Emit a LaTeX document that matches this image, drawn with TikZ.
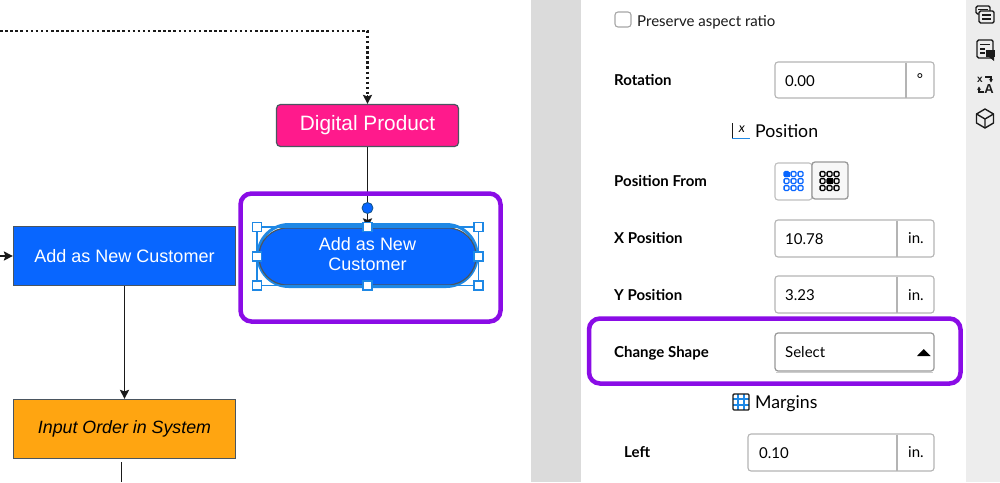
\documentclass[tikz,border=0pt]{standalone}
\usepackage{fontspec}
\setmainfont{Liberation Sans}
\newfontfamily\lato{Lato}
\usetikzlibrary{arrows.meta,calc,shapes.misc}
\definecolor{purp}{HTML}{8A0CE6}
\definecolor{blu}{HTML}{0866FF}
\definecolor{hand}{HTML}{1E88E5}
\definecolor{pink}{HTML}{FF1A8C}
\definecolor{orng}{HTML}{FFA511}
\definecolor{bord}{HTML}{4A5560}
\definecolor{field}{HTML}{B4B4B4}
\definecolor{ink}{HTML}{1A1A1A}
\tikzset{
  flow/.style={draw=bord,line width=1.2pt,minimum height=0,inner sep=0pt,align=center},
  conn/.style={draw=ink,line width=1.9pt,-{Stealth[length=9pt,width=9pt,inset=1.5pt]}},
  handle/.style={draw=hand,fill=white,line width=1.2pt,minimum size=9pt,inner sep=0pt},
  callout/.style={draw=purp,line width=4.5pt,rounded corners=11pt},
  lab/.style={font=\lato\bfseries\fontsize{15}{16}\selectfont,text=black,anchor=west,inner sep=0pt,text height=13pt,text depth=2.2pt},
  val/.style={font=\lato\fontsize{15}{16}\selectfont,text=black,anchor=west,inner sep=0pt,text height=13pt,text depth=2.2pt},
  head/.style={font=\lato\fontsize{17.7}{20}\selectfont,text=black,anchor=west,inner sep=0pt,text height=15pt,text depth=2.6pt},
  fld/.style={draw=field,line width=1.1pt,rounded corners=3pt,fill=white},
  ico/.style={draw=ink,line width=1.4pt},
}
\begin{document}
\begin{tikzpicture}[x=1pt,y=-1pt]
\useasboundingbox (0,0) rectangle (1000,482);
\fill[white] (0,0) rectangle (1000,482);
\fill[black!14] (531,0) rectangle (581,482);
\fill[black!7] (966,0) rectangle (1000,482);

% flow shapes
\node[flow,fill=pink,rounded corners=4pt,minimum width=182pt,minimum height=42pt,text=white,font=\fontsize{20.8}{24}\selectfont] (dp) at (367.5,125.5) {Digital Product};
\node[flow,fill=blu,minimum width=222pt,minimum height=59pt,text=white,font=\fontsize{18}{22}\selectfont] (add) at (124.5,256) {Add as New Customer};
\node[flow,fill=orng,minimum width=222pt,minimum height=59pt,text=black,font=\itshape\fontsize{17.8}{22}\selectfont] (inp) at (124.5,429) {Input Order in System};
\node[draw=hand,line width=3pt,rounded rectangle,minimum width=226pt,minimum height=62pt] (sel) at (367.5,255.5) {};
\node[draw=bord,fill=blu,line width=1.2pt,rounded rectangle,minimum width=224pt,minimum height=57pt] (cust) at (367.5,256.5) {};
\node[text=white,align=center,inner sep=0pt,font=\fontsize{18}{20}\selectfont] (custtext) at (367.5,254.5) {Add as New\\Customer};

% free ends
\coordinate (topleft) at (0,31);
\coordinate (corner) at (367.5,31);
\coordinate (inleft) at (0,256);
\coordinate (inpend) at (121.5,482);
\coordinate (inptop) at (121.5,462);

% connectors
\draw[draw=ink,line width=2.5pt,dash pattern=on 2.5pt off 2.6pt] (topleft) -- (corner) -- ($(dp.north)+(0,-9)$);
\draw[-{Stealth[length=9pt,width=9pt,inset=1.5pt]},draw=ink,line width=1.9pt] ($(dp.north)+(0,-9)$) -- (dp.north);
\draw[conn] (dp.south) -- (cust.north);
\draw[conn] (inleft) -- (add.west);
\draw[conn] (add.south) -- (inp.north -| add.south);
\draw[draw=ink,line width=1.9pt] (inptop) -- (inpend);

% selection frame
\draw[draw=hand,line width=1.1pt] (257,227) rectangle (478.5,285.5);
\node[circle,draw=hand!60!black,fill=blu,line width=.8pt,minimum size=11pt,inner sep=0pt] (rot) at (367.5,208) {};
\foreach \n/\x/\y in {a/257/227,b/367.5/227,c/478.5/227,d/257/256.5,e/478.5/256.5,f/257/285.5,g/367.5/285.5,h/478.5/285.5}
  \node[handle] (h\n) at (\x,\y) {};

% callouts
\draw[callout] (240.5,193.5) rectangle (500.5,321.5);
\draw[callout] (589,318.5) rectangle (960.5,383.5);

% panel
\draw[draw=black!35,line width=1.1pt,rounded corners=3pt] (615,12) rectangle (631,27);
\node[val,text=ink] (par) at (637,21) {Preserve aspect ratio};

\node[lab] (lrot) at (614,80) {Rotation};
\draw[fld] (775,62) rectangle (934,98);
\draw[draw=field,line width=1.1pt] (906,62.5) -- (906,97.5);
\node[val] (vrot) at (785,81) {0.00};
\node[font=\lato\fontsize{15}{16}\selectfont,inner sep=0pt] (deg) at (920,79) {°};

% position heading
\draw[draw=ink,line width=1.2pt] (732.5,123) -- (732.5,138);
\draw[draw=hand,line width=1.5pt] (732,138.5) -- (750,138.5);
\node[font=\lato\itshape\fontsize{13}{13}\selectfont,inner sep=0pt] (xi) at (742,129.5) {x};
\node[head] (hpos) at (755,131) {Position};

\node[lab] (lfrom) at (614,181) {Position From};
\draw[fld,draw=black!25] (775,163) rectangle (812,200);
\draw[fld,draw=black!40,fill=black!3,line width=1.3pt] (812,162) rectangle (848,199);
\foreach \cx/\col in {793.5/blu,829.5/black}{
  \foreach \i in {-7,0,7} \foreach \j in {-7,0,7}{
    \draw[draw=\col,line width=1.3pt,rounded corners=1pt] ({\cx+\i-2.4},{181+\j-2.4}) rectangle ({\cx+\i+2.4},{181+\j+2.4});
  }
}
\fill[blu] (784,171.5) rectangle (789.5,177);
\fill[black] (826.5,178) rectangle (832.5,184);

\node[lab] (lx) at (614,238) {X Position};
\draw[fld] (775,220) rectangle (934,257);
\draw[draw=field,line width=1.1pt] (897,220.5) -- (897,256.5);
\node[val] (vx) at (785,239) {10.78};
\node[val] (ux) at (908,238) {in.};

\node[lab] (ly) at (614,295) {Y Position};
\draw[fld] (775,276) rectangle (934,313);
\draw[draw=field,line width=1.1pt] (897,276.5) -- (897,312.5);
\node[val] (vy) at (785,295) {3.23};
\node[val] (uy) at (908,295) {in.};

\node[lab] (lcs) at (614,352) {Change Shape};
\draw[fld,draw=black!40,line width=1.2pt] (775,333) rectangle (934,371);
\draw[draw=black!20,line width=1pt] (776,372) -- (933,372);
\node[val] (vsel) at (785,352) {Select};
\fill[black] (917,356) -- (930.5,356) -- (923.75,349) -- cycle;

% margins heading
\draw[draw=hand,line width=1.3pt] (738,394) -- (738,410) (744,394) -- (744,410) (733,399) -- (749,399) (733,405) -- (749,405);
\draw[draw=ink,line width=1.4pt,rounded corners=1pt] (733,394) rectangle (749,410);
\node[head] (hmar) at (755,402) {Margins};

\node[lab] (lleft) at (624,452) {Left};
\draw[fld] (748,434) rectangle (934,471);
\draw[draw=field,line width=1.1pt] (897,434.5) -- (897,470.5);
\node[val] (vl) at (759,453) {0.10};
\node[val] (ul) at (908,452) {in.};

% right rail icons
\draw[ico,rounded corners=1.5pt,fill=black!7] (976,6) rectangle (990,14);
\draw[ico,rounded corners=1.5pt,fill=black!7] (979,11) rectangle (994,23);
\draw[draw=ink,line width=1.1pt] (978,9.5) -- (988,9.5) (982,15) -- (991,15) (982,19) -- (991,19);
\draw[ico,rounded corners=1.5pt] (977,40) rectangle (993,58);
\draw[draw=ink,line width=1.1pt] (980,44.5) -- (990,44.5) (980,49) -- (985,49) (980,53) -- (985,53);
\fill[ink] (986,50) rectangle (995,57);
\fill[ink] (989,57) -- (994,57) -- (994,61) -- cycle;
\node[font=\bfseries\fontsize{10}{10}\selectfont,inner sep=0pt,text=ink] (tx) at (980,80) {x};
\node[font=\bfseries\fontsize{13}{13}\selectfont,inner sep=0pt,text=ink] (ta) at (989,89) {A};
\draw[draw=ink,line width=1.2pt,-{Stealth[length=3.5pt,width=4pt]}] (985,77) -- (991,77) -- (991,82.5);
\draw[draw=ink,line width=1.2pt,-{Stealth[length=3.5pt,width=4pt]}] (984,92) -- (979,92) -- (979,86.5);
\draw[ico,line join=round] (985,109) -- (993.5,114) -- (993.5,123) -- (985,128) -- (976.5,123) -- (976.5,114) -- cycle;
\draw[ico,line join=round] (976.5,114) -- (985,119) -- (993.5,114) (985,119) -- (985,128);
\end{tikzpicture}
\end{document}
